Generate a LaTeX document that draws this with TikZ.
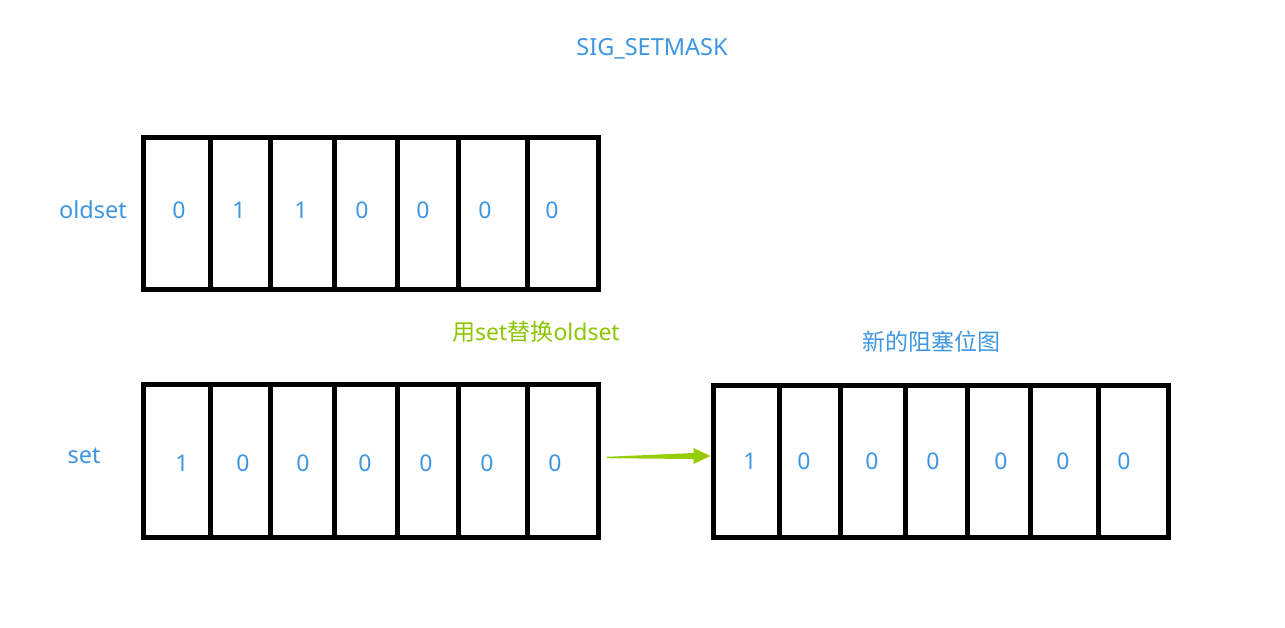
\documentclass[tikz,border=0pt]{standalone}
\usepackage{fontspec}
\setmainfont{Noto Sans}
\newfontfamily\cjk{Noto Sans CJK SC}
\usetikzlibrary{calc}
\definecolor{tblue}{RGB}{62,150,226}
\definecolor{tgreen}{RGB}{140,198,0}
\definecolor{agreen}{RGB}{150,204,0}
\tikzset{
  bitbox/.style={draw=black, line width=5pt, inner sep=0pt, minimum height=152pt},
  divider/.style={draw=black, line width=5pt},
  bit/.style={text=tblue, font=\fontsize{23}{27}\selectfont, inner sep=0pt},
  lbl/.style={text=tblue, font=\fontsize{23.5}{28}\selectfont, inner sep=0pt},
  glbl/.style={text=tgreen, font=\fontsize{23}{27}\selectfont, inner sep=0pt},
}
\begin{document}
\begin{tikzpicture}[x=1pt,y=-1pt]
\useasboundingbox (0,0) rectangle (1285,627);
% titles
\node[lbl] (title) at (652,49) {SIG\_SETMASK};
\node[lbl] (oldlbl) at (93,210) {oldset};
\node[lbl] (setlbl) at (84,456) {set};
\node[glbl] (repl) at (536,332) {{\cjk 用}set{\cjk 替换}oldset};
\node[lbl, font=\fontsize{23}{27}\selectfont] (newlbl) at (931,342) {\cjk 新的阻塞位图};
% old box
\node[bitbox, minimum width=455pt] (oldbox) at (370.5,213) {};
\foreach \x in {210,270,334,397,458,527}
  \draw[divider] (\x,137) -- (\x,289);
\foreach \x/\v [count=\i] in {179/0,239/1,301/1,362/0,423/0,485/0,552/0}
  \node[bit] (o\i) at (\x,210) {\v};
% set box
\node[bitbox, minimum width=455pt, minimum height=153pt] (setbox) at (370.5,460.5) {};
\foreach \x in {210,270,334,397,458,527}
  \draw[divider] (\x,384) -- (\x,537);
\foreach \x/\v [count=\i] in {182/1,243/0,303/0,365/0,426/0,487/0,555/0}
  \node[bit] (s\i) at (\x,463) {\v};
% new box
\node[bitbox, minimum width=455pt] (newbox) at (940.5,461) {};
\foreach \x in {779,840,905,967,1030,1098}
  \draw[divider] (\x,385) -- (\x,537);
\foreach \x/\v [count=\i] in {750/1,804/0,872/0,933/0,1001/0,1063/0,1124/0}
  \node[bit] (n\i) at (\x,461) {\v};
% arrow
\coordinate (a0) at ($(setbox.east)+(6,-3)$);
\coordinate (a1) at ($(newbox.west)+(0,-5)$);
\fill[agreen] ($(a0)+(0,-0.7)$) -- ($(a1)+(-17,-3)$) -- ($(a1)+(-17,-8)$) -- (a1)
  -- ($(a1)+(-17,8)$) -- ($(a1)+(-17,3)$) -- ($(a0)+(0,0.7)$) -- cycle;
\end{tikzpicture}
\end{document}
